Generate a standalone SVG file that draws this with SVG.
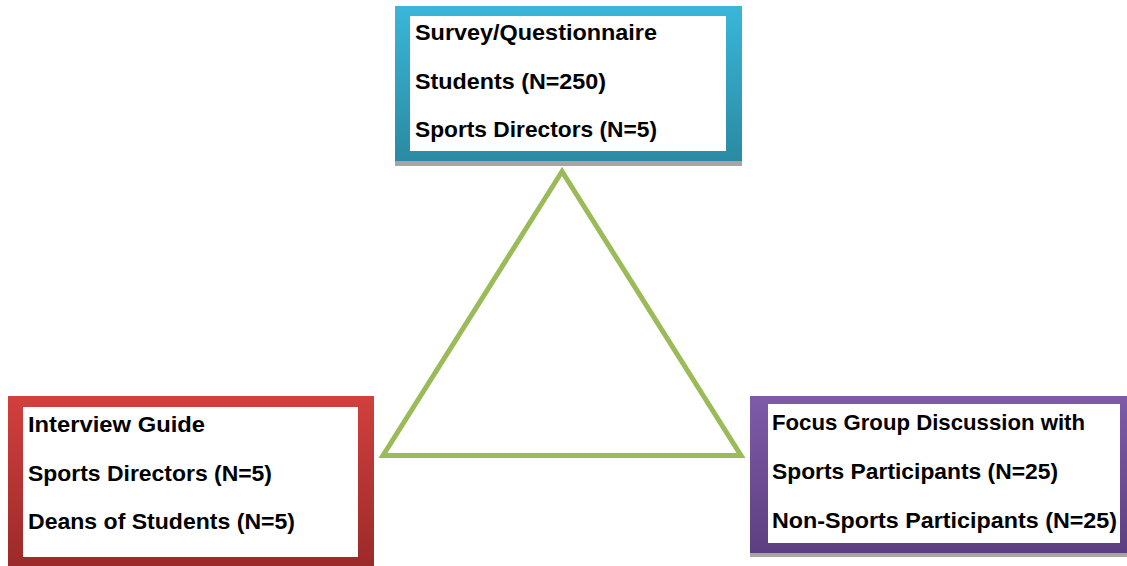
<svg xmlns="http://www.w3.org/2000/svg" width="1127" height="566" viewBox="0 0 1127 566">
<style>
  .t { font-family: "Liberation Sans", Arial, sans-serif; font-weight: bold; font-size: 22px; fill: #000; }
  .inner { fill: #fff; }
  .shadow { fill: #A5A5A5; }
</style>
<defs>
  <linearGradient id="gTeal" x1="0" y1="0" x2="0" y2="1">
    <stop offset="0" stop-color="#3AB6DA"/>
    <stop offset="1" stop-color="#2A8AA2"/>
  </linearGradient>
  <linearGradient id="gRed" x1="0" y1="0" x2="0" y2="1">
    <stop offset="0" stop-color="#D1403D"/>
    <stop offset="1" stop-color="#9C2A2A"/>
  </linearGradient>
  <linearGradient id="gPurple" x1="0" y1="0" x2="0" y2="1">
    <stop offset="0" stop-color="#7F5BA9"/>
    <stop offset="1" stop-color="#5D3F80"/>
  </linearGradient>
</defs>
<rect width="1127" height="566" fill="#fff"/>
<g id="connectors">
  <polygon points="562,171.5 383,455.5 741,455.5" fill="none" stroke="#9BBB59" stroke-width="5" stroke-linejoin="miter"/>
</g>
<g id="survey">
  <rect class="shadow" x="395" y="160" width="347" height="6"/>
  <rect x="395" y="6" width="347" height="155" fill="url(#gTeal)"/>
  <rect class="inner" x="410" y="16" width="316" height="135"/>
  <text class="t" x="415" y="40" textLength="242" lengthAdjust="spacingAndGlyphs">Survey/Questionnaire</text>
  <text class="t" x="415" y="89" textLength="191" lengthAdjust="spacingAndGlyphs">Students (N=250)</text>
  <text class="t" x="415" y="137" textLength="242" lengthAdjust="spacingAndGlyphs">Sports Directors (N=5)</text>
</g>
<g id="interview">
  <rect x="8" y="396" width="366" height="170" fill="url(#gRed)"/>
  <rect class="inner" x="23" y="407" width="335" height="150"/>
  <text class="t" x="28" y="432" textLength="177" lengthAdjust="spacingAndGlyphs">Interview Guide</text>
  <text class="t" x="28" y="481" textLength="244" lengthAdjust="spacingAndGlyphs">Sports Directors (N=5)</text>
  <text class="t" x="28" y="529" textLength="267" lengthAdjust="spacingAndGlyphs">Deans of Students (N=5)</text>
</g>
<g id="focus">
  <rect class="shadow" x="750" y="552" width="377" height="5"/>
  <rect x="750" y="396" width="377" height="157" fill="url(#gPurple)"/>
  <rect class="inner" x="768" y="404" width="352" height="139"/>
  <text class="t" x="772" y="430" textLength="313" lengthAdjust="spacingAndGlyphs">Focus Group Discussion with</text>
  <text class="t" x="772" y="479" textLength="286" lengthAdjust="spacingAndGlyphs">Sports Participants (N=25)</text>
  <text class="t" x="772" y="528" textLength="345" lengthAdjust="spacingAndGlyphs">Non-Sports Participants (N=25)</text>
</g>
</svg>
